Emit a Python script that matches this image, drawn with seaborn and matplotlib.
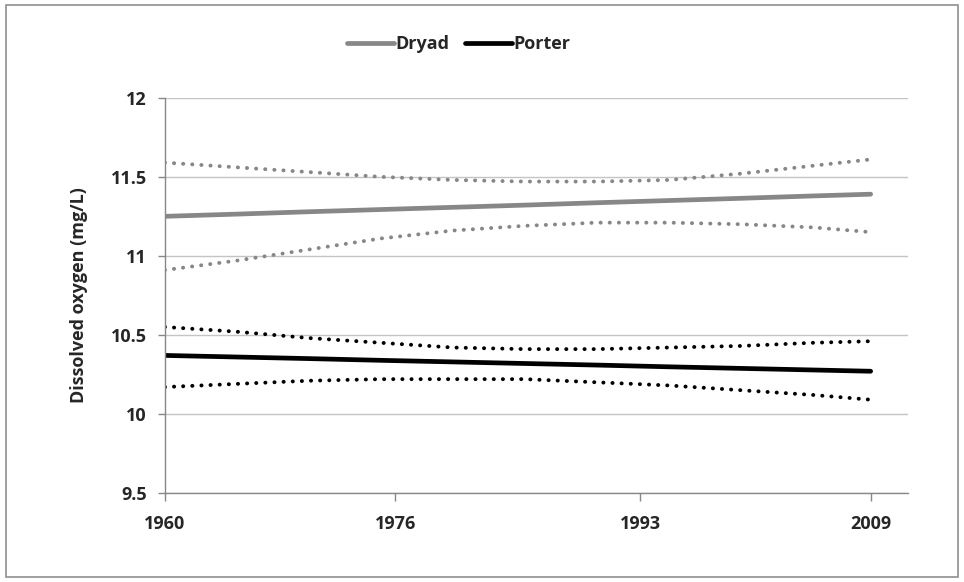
import matplotlib
matplotlib.use("Agg")
import matplotlib.pyplot as plt
import seaborn as sns
import pandas as pd
from matplotlib.patches import Rectangle
from matplotlib.lines import Line2D
from matplotlib import font_manager

years = [1960, 1965, 1970, 1975, 1980, 1985, 1990, 1995, 2000, 2005, 2009]
tick_years = [1960, 1976, 1993, 2009]

dryad_fit = [11.250, 11.264, 11.279, 11.293, 11.307, 11.321, 11.336, 11.350, 11.364, 11.379, 11.390]
dryad_upper = [11.59, 11.56, 11.53, 11.50, 11.48, 11.47, 11.47, 11.48, 11.52, 11.57, 11.61]
dryad_lower = [10.91, 10.97, 11.04, 11.11, 11.16, 11.19, 11.21, 11.21, 11.20, 11.18, 11.15]

porter_fit = [10.370, 10.360, 10.350, 10.339, 10.329, 10.319, 10.309, 10.298, 10.288, 10.278, 10.270]
porter_upper = [10.55, 10.52, 10.48, 10.45, 10.42, 10.41, 10.41, 10.42, 10.43, 10.45, 10.46]
porter_lower = [10.17, 10.19, 10.21, 10.22, 10.22, 10.22, 10.20, 10.18, 10.15, 10.12, 10.09]

y_ticks = [9.5, 10, 10.5, 11, 11.5, 12]
y_tick_labels = ["9.5", "10", "10.5", "11", "11.5", "12"]

sns.set_theme(style="white")
names = {f.name for f in font_manager.fontManager.ttflist}
fam = [n for n in ["Liberation Sans Narrow", "Open Sans", "DejaVu Sans"] if n in names]
plt.rcParams['font.family'] = fam

fig = plt.figure(figsize=(9.64, 5.82), dpi=100)
ax = fig.add_axes([0.171, 0.153, 0.771, 0.679])

GRAY = "#878787"
df = pd.DataFrame({"year": years,
                   "dryad_fit": dryad_fit, "dryad_upper": dryad_upper, "dryad_lower": dryad_lower,
                   "porter_fit": porter_fit, "porter_upper": porter_upper, "porter_lower": porter_lower})

ax.set_axisbelow(True)
DOT = (0, (0.05, 2.3))
for col in ["dryad_upper", "dryad_lower"]:
    sns.lineplot(data=df, x="year", y=col, ax=ax, color=GRAY, lw=2.8,
                 linestyle=DOT, dash_capstyle="round", legend=False)
for col in ["porter_upper", "porter_lower"]:
    sns.lineplot(data=df, x="year", y=col, ax=ax, color="black", lw=2.8,
                 linestyle=DOT, dash_capstyle="round", legend=False)
sns.lineplot(data=df, x="year", y="dryad_fit", ax=ax, color=GRAY, lw=3.4, legend=False)
sns.lineplot(data=df, x="year", y="porter_fit", ax=ax, color="black", lw=3.4, legend=False)

ax.set_xlim(1960, 2011.6)
ax.set_ylim(9.5, 12)
ax.set_xticks(tick_years)
ax.set_xticklabels([str(t) for t in tick_years], fontsize=13, fontweight="bold")
ax.set_yticks(y_ticks)
ax.set_yticklabels(y_tick_labels, fontsize=13, fontweight="bold")
ax.set_xlabel("")
ax.set_ylabel("Dissolved oxygen (mg/L)", fontsize=13, fontweight="bold", labelpad=16)

ax.yaxis.grid(True, color="#c4c4c4", lw=1)
ax.xaxis.grid(False)
for s in ["top", "right"]:
    ax.spines[s].set_visible(False)
for s in ["left", "bottom"]:
    ax.spines[s].set_color(GRAY)
    ax.spines[s].set_linewidth(1)
ax.tick_params(axis="x", direction="out", length=6, width=1, color=GRAY, pad=10, bottom=True)
ax.tick_params(axis="y", direction="out", length=5, width=1, color=GRAY, pad=8, left=True)

handles = [Line2D([], [], color=GRAY, lw=3.4), Line2D([], [], color="black", lw=3.4)]
fig.legend(handles, ["Dryad", "Porter"], loc="center", bbox_to_anchor=(0.476, 0.924),
           ncol=2, frameon=False, handlelength=2.6, handletextpad=0.05, columnspacing=0.9,
           prop={"weight": "bold", "size": 13})

fig.patches.append(Rectangle((0.006, 0.008), 0.988, 0.984, transform=fig.transFigure,
                             fill=False, edgecolor="#8f8f8f", lw=1.2))

fig.savefig("out.png", dpi=100)
